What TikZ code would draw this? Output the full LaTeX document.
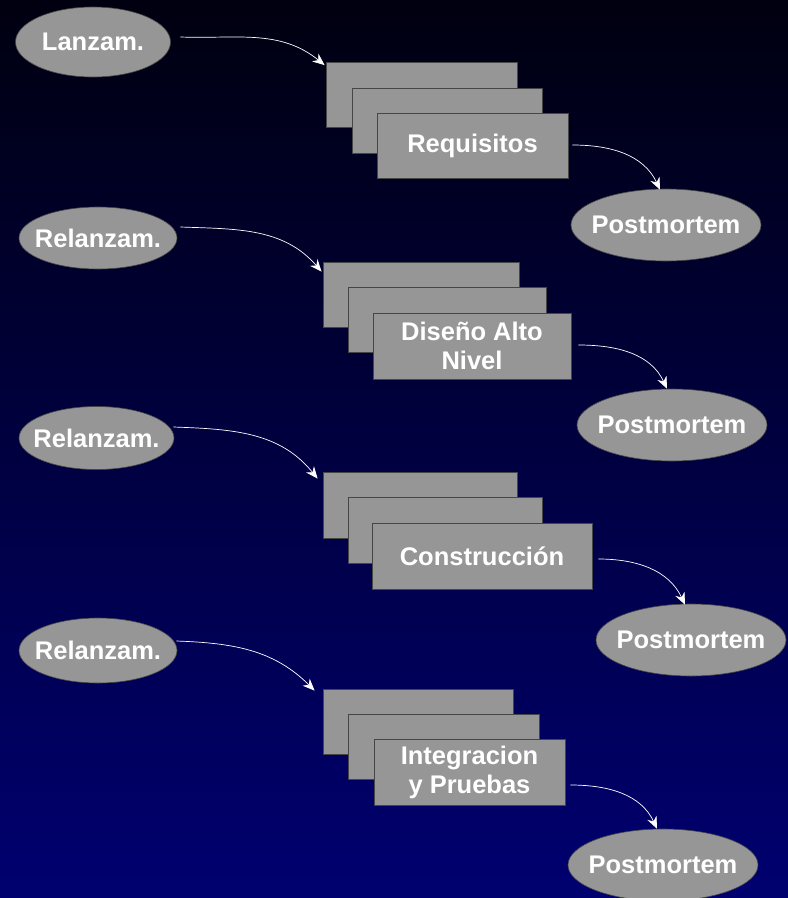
\documentclass[tikz,border=0pt]{standalone}
\usepackage{fontspec}
\setmainfont{Liberation Sans}
\usetikzlibrary{arrows.meta,shapes.geometric}
\definecolor{boxgray}{RGB}{150,150,150}
\definecolor{edgegray}{RGB}{70,70,70}
\definecolor{bgtop}{RGB}{0,0,16}
\definecolor{bgbot}{RGB}{0,0,112}
\newcommand{\zw}[1]{\makebox[0pt]{#1}}
\begin{document}
\begin{tikzpicture}[x=1pt,y=1pt,
  lbl/.style={font=\fontsize{25.5}{29}\selectfont\bfseries, text=white, align=center},
  phase/.style={lbl, draw=edgegray, line width=0.8pt, fill=boxgray, rectangle, inner sep=0pt, minimum height=65pt},
  oval/.style={lbl, draw=edgegray, line width=0.6pt, fill=boxgray, ellipse, inner sep=0pt},
  flow/.style={draw=white, line width=0.7pt, -{Stealth[length=12pt,width=10pt,inset=4pt]}}]
\shade[top color=bgtop,bottom color=bgbot] (0,0) rectangle (788,-898);
\useasboundingbox (0,0) rectangle (788,-898);

% stage 1
\node[oval,minimum width=155pt,minimum height=70pt] (l1) at (93,-42) {\zw{Lanzam.}};
\node[phase,minimum width=191pt] (r1a) at (421.5,-95) {};
\node[phase,minimum width=190pt] (r1b) at (447,-120.5) {};
\node[phase,minimum width=191pt] (r1c) at (472.5,-145.5) {Requisitos};
\node[oval,minimum width=190pt,minimum height=72pt] (pm1) at (666,-225) {\zw{Postmortem}};
\draw[flow] ([shift={(9.5,5)}]l1.east) to[out=-2,in=141] ([shift={(-1,-3)}]r1a.north west);
\draw[flow] ([shift={(4,0.5)}]r1c.east) to[out=0,in=115] ([shift={(-6,-1)}]pm1.north);

% stage 2
\node[oval,minimum width=158pt,minimum height=62pt] (l2) at (98,-238) {\zw{Relanzam.}};
\node[phase,minimum width=196pt] (r2a) at (421,-294.5) {};
\node[phase,minimum width=198pt] (r2b) at (447,-320) {};
\node[phase,minimum width=198pt,minimum height=66pt] (r2c) at (472,-346) {Diseño Alto\\Nivel};
\node[oval,minimum width=190pt,minimum height=72pt] (pm2) at (672,-425) {\zw{Postmortem}};
\draw[flow] ([shift={(3,11)}]l2.east) to[out=-2,in=131] ([shift={(-1,-10)}]r2a.north west);
\draw[flow] ([shift={(7,1)}]r2c.east) to[out=0,in=115] ([shift={(-5,0)}]pm2.north);

% stage 3
\node[oval,minimum width=155pt,minimum height=63pt] (l3) at (96.5,-438) {\zw{Relanzam.}};
\node[phase,minimum width=194pt,minimum height=66pt] (r3a) at (420,-505) {};
\node[phase,minimum width=194pt,minimum height=66pt] (r3b) at (445,-530) {};
\node[phase,minimum width=220pt,minimum height=66pt] (r3c) at (482,-556) {Construcción};
\node[oval,minimum width=190pt,minimum height=72pt] (pm3) at (691,-640) {\zw{Postmortem}};
\draw[flow] ([shift={(-1,11)}]l3.east) to[out=-2,in=129] ([shift={(-5,-7)}]r3a.north west);
\draw[flow] ([shift={(6,-3)}]r3c.east) to[out=0,in=115] ([shift={(-6,-1)}]pm3.north);

% stage 4
\node[oval,minimum width=158pt,minimum height=65pt] (l4) at (98,-650.5) {\zw{Relanzam.}};
\node[phase,minimum width=190pt] (r4a) at (418,-721.5) {};
\node[phase,minimum width=191pt] (r4b) at (443.5,-746.5) {};
\node[phase,minimum width=191pt,minimum height=66pt] (r4c) at (469.5,-772) {Integracion\\y Pruebas};
\node[oval,minimum width=190pt,minimum height=72pt] (pm4) at (663,-865) {\zw{Postmortem}};
\draw[flow] ([shift={(-1,9.5)}]l4.east) to[out=-2,in=135] ([shift={(-8,-2)}]r4a.north west);
\draw[flow] ([shift={(5,-13)}]r4c.east) to[out=0,in=115] ([shift={(-6,0)}]pm4.north);
\end{tikzpicture}
\end{document}
